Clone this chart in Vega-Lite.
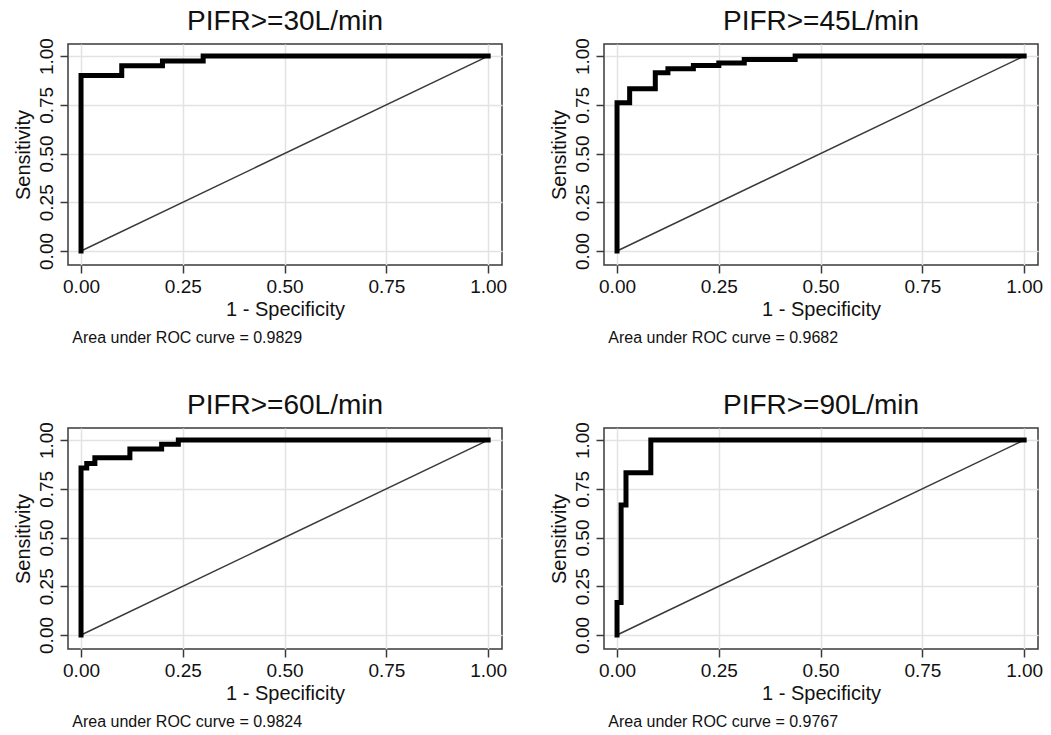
{
  "$schema": "https://vega.github.io/schema/vega-lite/v6.json",
  "background": "white",
  "padding": {"left": 12, "top": 6, "right": 5, "bottom": 5},
  "config": {
    "font": "Liberation Sans",
    "view": {"stroke": "#3a3a3a", "strokeWidth": 1.5},
    "axis": {"domain": false, "grid": true, "gridColor": "#e2e2e2", "gridWidth": 1.5, "tickColor": "#3a3a3a", "tickSize": 8, "tickWidth": 1.5, "labelFontSize": 19, "labelColor": "#111", "titleFontSize": 20, "titleFontWeight": "normal", "titleColor": "#111", "labelFont": "Liberation Sans", "titleFont": "Liberation Sans"},
    "axisX": {"labelPadding": 4, "titlePadding": 3},
    "axisY": {"labelAngle": -90, "labelAlign": "center", "labelBaseline": "bottom", "labelPadding": 4, "titlePadding": 4},
    "title": {"fontSize": 28, "fontWeight": "normal", "color": "#111", "frame": "group", "anchor": "middle", "offset": 2}
  },
  "datasets": {
    "diag": [{"i": 0, "fpr": 0, "sens": 0}, {"i": 1, "fpr": 1, "sens": 1}],
    "roc30": [
      {"i": 0, "fpr": 0, "sens": 0}, {"i": 1, "fpr": 0, "sens": 0.9}, {"i": 2, "fpr": 0.1, "sens": 0.9}, {"i": 3, "fpr": 0.1, "sens": 0.95},
      {"i": 4, "fpr": 0.2, "sens": 0.95}, {"i": 5, "fpr": 0.2, "sens": 0.975}, {"i": 6, "fpr": 0.3, "sens": 0.975}, {"i": 7, "fpr": 0.3, "sens": 1}, {"i": 8, "fpr": 1, "sens": 1}
    ],
    "roc45": [
      {"i": 0, "fpr": 0, "sens": 0}, {"i": 1, "fpr": 0, "sens": 0.76}, {"i": 2, "fpr": 0.031, "sens": 0.76}, {"i": 3, "fpr": 0.031, "sens": 0.832},
      {"i": 4, "fpr": 0.094, "sens": 0.832}, {"i": 5, "fpr": 0.094, "sens": 0.914}, {"i": 6, "fpr": 0.125, "sens": 0.914}, {"i": 7, "fpr": 0.125, "sens": 0.935},
      {"i": 8, "fpr": 0.1875, "sens": 0.935}, {"i": 9, "fpr": 0.1875, "sens": 0.952}, {"i": 10, "fpr": 0.25, "sens": 0.952}, {"i": 11, "fpr": 0.25, "sens": 0.964},
      {"i": 12, "fpr": 0.3125, "sens": 0.964}, {"i": 13, "fpr": 0.3125, "sens": 0.983}, {"i": 14, "fpr": 0.4375, "sens": 0.983}, {"i": 15, "fpr": 0.4375, "sens": 1}, {"i": 16, "fpr": 1, "sens": 1}
    ],
    "roc60": [
      {"i": 0, "fpr": 0, "sens": 0}, {"i": 1, "fpr": 0, "sens": 0.857}, {"i": 2, "fpr": 0.014, "sens": 0.857}, {"i": 3, "fpr": 0.014, "sens": 0.88},
      {"i": 4, "fpr": 0.034, "sens": 0.88}, {"i": 5, "fpr": 0.034, "sens": 0.909}, {"i": 6, "fpr": 0.12, "sens": 0.909}, {"i": 7, "fpr": 0.12, "sens": 0.954},
      {"i": 8, "fpr": 0.198, "sens": 0.954}, {"i": 9, "fpr": 0.198, "sens": 0.978}, {"i": 10, "fpr": 0.239, "sens": 0.978}, {"i": 11, "fpr": 0.239, "sens": 1}, {"i": 12, "fpr": 1, "sens": 1}
    ],
    "roc90": [
      {"i": 0, "fpr": 0, "sens": 0}, {"i": 1, "fpr": 0, "sens": 0.167}, {"i": 2, "fpr": 0.01, "sens": 0.167}, {"i": 3, "fpr": 0.01, "sens": 0.667},
      {"i": 4, "fpr": 0.022, "sens": 0.667}, {"i": 5, "fpr": 0.022, "sens": 0.833}, {"i": 6, "fpr": 0.083, "sens": 0.833}, {"i": 7, "fpr": 0.083, "sens": 1}, {"i": 8, "fpr": 1, "sens": 1}
    ]
  },
  "columns": 2,
  "spacing": {"row": 44, "column": 40},
  "concat": [
    {
      "title": {"text": "Area under ROC curve = 0.9829", "orient": "bottom", "anchor": "start", "fontSize": 16, "frame": "bounds", "dx": 60, "offset": 10},
      "vconcat": [{
        "title": "PIFR>=30L/min",
        "width": 434, "height": 221,
        "encoding": {
          "x": {"field": "fpr", "type": "quantitative", "scale": {"domain": [-0.032, 1.034], "nice": false, "zero": false}, "axis": {"values": [0, 0.25, 0.5, 0.75, 1], "format": ".2f", "title": "1 - Specificity"}},
          "y": {"field": "sens", "type": "quantitative", "scale": {"domain": [-0.072, 1.062], "nice": false, "zero": false}, "axis": {"values": [0, 0.25, 0.5, 0.75, 1], "format": ".2f", "title": "Sensitivity"}},
          "order": {"field": "i", "type": "quantitative"}
        },
        "layer": [
          {"data": {"name": "diag"}, "mark": {"type": "line", "color": "#3a3a3a", "strokeWidth": 1.5}},
          {"data": {"name": "roc30"}, "mark": {"type": "line", "color": "black", "strokeWidth": 5, "strokeJoin": "miter", "strokeCap": "square"}}
        ]
      }]
    },
    {
      "title": {"text": "Area under ROC curve = 0.9682", "orient": "bottom", "anchor": "start", "fontSize": 16, "frame": "bounds", "dx": 60, "offset": 10},
      "vconcat": [{
        "title": "PIFR>=45L/min",
        "width": 434, "height": 221,
        "encoding": {
          "x": {"field": "fpr", "type": "quantitative", "scale": {"domain": [-0.032, 1.034], "nice": false, "zero": false}, "axis": {"values": [0, 0.25, 0.5, 0.75, 1], "format": ".2f", "title": "1 - Specificity"}},
          "y": {"field": "sens", "type": "quantitative", "scale": {"domain": [-0.072, 1.062], "nice": false, "zero": false}, "axis": {"values": [0, 0.25, 0.5, 0.75, 1], "format": ".2f", "title": "Sensitivity"}},
          "order": {"field": "i", "type": "quantitative"}
        },
        "layer": [
          {"data": {"name": "diag"}, "mark": {"type": "line", "color": "#3a3a3a", "strokeWidth": 1.5}},
          {"data": {"name": "roc45"}, "mark": {"type": "line", "color": "black", "strokeWidth": 5, "strokeJoin": "miter", "strokeCap": "square"}}
        ]
      }]
    },
    {
      "title": {"text": "Area under ROC curve = 0.9824", "orient": "bottom", "anchor": "start", "fontSize": 16, "frame": "bounds", "dx": 60, "offset": 10},
      "vconcat": [{
        "title": "PIFR>=60L/min",
        "width": 434, "height": 221,
        "encoding": {
          "x": {"field": "fpr", "type": "quantitative", "scale": {"domain": [-0.032, 1.034], "nice": false, "zero": false}, "axis": {"values": [0, 0.25, 0.5, 0.75, 1], "format": ".2f", "title": "1 - Specificity"}},
          "y": {"field": "sens", "type": "quantitative", "scale": {"domain": [-0.072, 1.062], "nice": false, "zero": false}, "axis": {"values": [0, 0.25, 0.5, 0.75, 1], "format": ".2f", "title": "Sensitivity"}},
          "order": {"field": "i", "type": "quantitative"}
        },
        "layer": [
          {"data": {"name": "diag"}, "mark": {"type": "line", "color": "#3a3a3a", "strokeWidth": 1.5}},
          {"data": {"name": "roc60"}, "mark": {"type": "line", "color": "black", "strokeWidth": 5, "strokeJoin": "miter", "strokeCap": "square"}}
        ]
      }]
    },
    {
      "title": {"text": "Area under ROC curve = 0.9767", "orient": "bottom", "anchor": "start", "fontSize": 16, "frame": "bounds", "dx": 60, "offset": 10},
      "vconcat": [{
        "title": "PIFR>=90L/min",
        "width": 434, "height": 221,
        "encoding": {
          "x": {"field": "fpr", "type": "quantitative", "scale": {"domain": [-0.032, 1.034], "nice": false, "zero": false}, "axis": {"values": [0, 0.25, 0.5, 0.75, 1], "format": ".2f", "title": "1 - Specificity"}},
          "y": {"field": "sens", "type": "quantitative", "scale": {"domain": [-0.072, 1.062], "nice": false, "zero": false}, "axis": {"values": [0, 0.25, 0.5, 0.75, 1], "format": ".2f", "title": "Sensitivity"}},
          "order": {"field": "i", "type": "quantitative"}
        },
        "layer": [
          {"data": {"name": "diag"}, "mark": {"type": "line", "color": "#3a3a3a", "strokeWidth": 1.5}},
          {"data": {"name": "roc90"}, "mark": {"type": "line", "color": "black", "strokeWidth": 5, "strokeJoin": "miter", "strokeCap": "square"}}
        ]
      }]
    }
  ]
}
